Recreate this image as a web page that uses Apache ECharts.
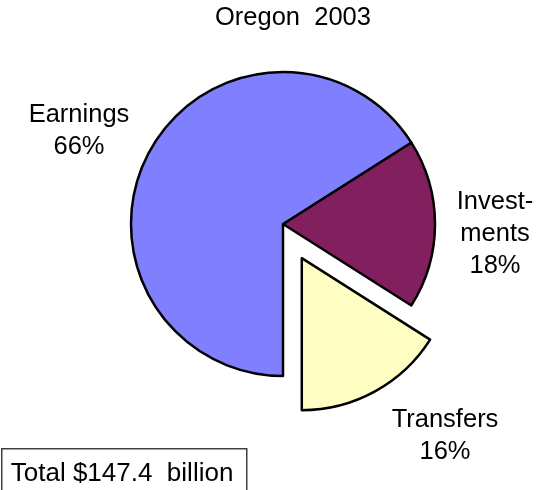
<!DOCTYPE html>
<html><head><meta charset="utf-8">
<script src="https://cdn.jsdelivr.net/npm/echarts@6/dist/echarts.min.js"></script>
<style>html,body{margin:0;padding:0;background:#fff}#c{width:543px;height:490px}</style>
</head><body><div id="c"></div>
<script>
const categories = ['Investments', 'Transfers', 'Earnings'];
const labelTexts = ['Invest-\nments', 'Transfers', 'Earnings'];
const values = [18, 16, 66];
const colors = ['#82205F', '#FFFFC4', '#8080FF'];
const titleText = 'Oregon  2003';
const totalText = 'Total $147.4  billion';

const labelPos = [[495, 234], [445, 436], [79, 131]];
const font = '25.5px "Liberation Sans"';
const labelGraphics = categories.map((c, i) => ({
  type: 'text', x: labelPos[i][0], y: labelPos[i][1],
  style: { text: labelTexts[i] + '\n' + values[i] + '%', font: font, fill: '#000',
    align: 'center', verticalAlign: 'middle', lineHeight: 32 }
}));

const chart = echarts.init(document.getElementById('c'));
chart.setOption({
  backgroundColor: '#fff',
  animation: false,
  title: { text: titleText, left: 210, top: 0,
    textStyle: { fontFamily: 'Liberation Sans', fontSize: 25.5, fontWeight: 'normal', color: '#000' } },
  graphic: [{
    type: 'group', left: 1, top: 448,
    children: [
      { type: 'rect', shape: { x: 0, y: 0, width: 245, height: 50 },
        style: { fill: '#fff', stroke: '#404040', lineWidth: 1.5 } },
      { type: 'text', x: 9, y: 12, style: { text: totalText, font: '26px "Liberation Sans"', fill: '#000' } }
    ]
  }].concat(labelGraphics),
  series: [{
    type: 'pie',
    center: [283, 224],
    radius: 152,
    startAngle: 32.4,
    selectedMode: 'single',
    selectedOffset: 39,
    itemStyle: { borderColor: '#000', borderWidth: 2.5 },
    label: { show: false },
    labelLine: { show: false },
    emphasis: { disabled: true },
    data: categories.map((c, i) => ({ name: c, value: values[i], selected: c === 'Transfers', itemStyle: { color: colors[i] } }))
  }]
});
</script></body></html>
